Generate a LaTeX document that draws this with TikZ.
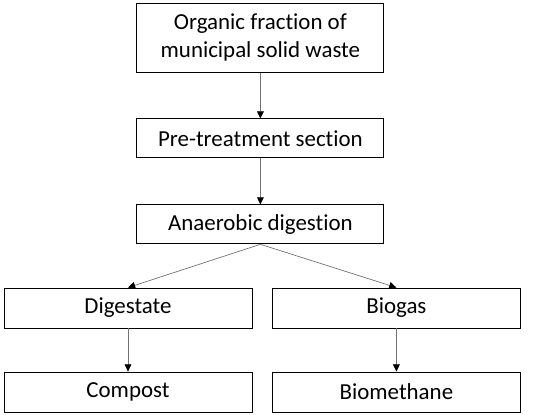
\documentclass[tikz,border=0pt]{standalone}
\usepackage{fontspec}
\setmainfont[Ligatures=NoCommon]{Carlito}
\usepackage{tikz}
\usetikzlibrary{positioning,calc,arrows.meta}

\begin{document}
\begin{tikzpicture}[
  x=1mm, y=1mm, font=\fontsize{16.3}{19.9}\selectfont,
  fbox/.style={draw=black, line width=0.6pt, align=center, fill=white,
               inner sep=0pt, minimum height=9.75mm},
  fwide/.style={fbox, minimum width=61.75mm},
  fhalf/.style={fbox, minimum width=62mm, minimum height=10mm},
  farr/.style={-{Triangle[length=1.8mm,width=1.7mm,black]}, line width=0.5pt, draw=black!55},
]
  \useasboundingbox (0,0) rectangle (137.5,-103.75);
  % 1. feed
  \node[fwide, minimum height=17.25mm] (ofmsw) at (65.1,-9.4)
    {Organic fraction of\\municipal solid waste};
  % 2. pre-treatment
  \node[fwide] (pretr) at (65.1,-34.6) {Pre-treatment section};
  % 3. digestion
  \node[fwide] (ad) at (65.1,-56.1) {Anaerobic digestion};
  % 4. products
  \node[fhalf] (dig) at (32,-77) {Digestate};
  \node[fhalf] (bgas) at (99.1,-77) {Biogas};
  % 5. upgraded products
  \node[fhalf] (comp) at (32,-98) {Compost};
  \node[fhalf] (bmeth) at (99.1,-98) {Biomethane};
  % arrows
  \draw[farr] (ofmsw) -- (pretr);
  \draw[farr] (pretr) -- (ad);
  \draw[farr] (ad.south) -- (dig.north);
  \draw[farr] (ad.south) -- (bgas.north);
  \draw[farr] (dig) -- (comp);
  \draw[farr] (bgas) -- (bmeth);
\end{tikzpicture}
\end{document}
